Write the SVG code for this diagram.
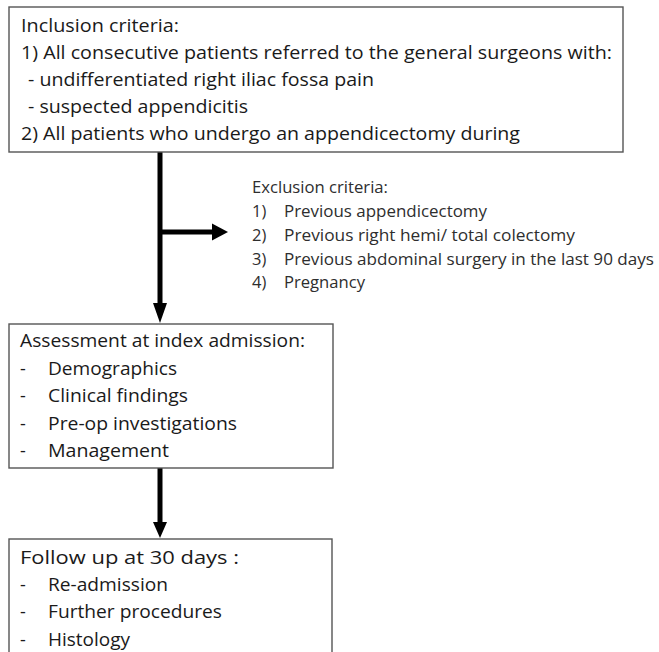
<svg xmlns="http://www.w3.org/2000/svg" width="659" height="652" viewBox="0 0 659 652">
<style>
.box{fill:#fff;stroke:#555;stroke-width:1.4}
.t{font-family:"Open Sans","Liberation Sans",sans-serif;font-size:18px;fill:#1a1a1a}
.e{font-family:"Open Sans","Liberation Sans",sans-serif;font-size:16.5px;fill:#2e2e2e}
.ln{stroke:#000;stroke-width:5;fill:none}
.ah{fill:#000}
</style>
<rect width="659" height="652" fill="#fff"/>
<g id="connectors">
<line class="ln" x1="160" y1="152" x2="160" y2="305"/>
<polygon class="ah" points="153,303 167,303 160,323"/>
<line class="ln" x1="160" y1="232" x2="214" y2="232"/>
<polygon class="ah" points="212,223.5 212,240.5 228,232"/>
<line class="ln" x1="160" y1="468" x2="160" y2="524"/>
<polygon class="ah" points="153,522 167,522 160,538"/>
</g>
<g id="inclusion">
<rect class="box" x="9" y="7" width="614" height="145"/>
<text class="t" x="21" y="32" textLength="158" lengthAdjust="spacingAndGlyphs">Inclusion criteria:</text>
<text class="t" x="21" y="59" textLength="591" lengthAdjust="spacingAndGlyphs">1) All consecutive patients referred to the general surgeons with:</text>
<text class="t" x="28" y="86" textLength="346" lengthAdjust="spacingAndGlyphs">- undifferentiated right iliac fossa pain</text>
<text class="t" x="28" y="113" textLength="220" lengthAdjust="spacingAndGlyphs">- suspected appendicitis</text>
<text class="t" x="21" y="140" textLength="499" lengthAdjust="spacingAndGlyphs">2) All patients who undergo an appendicectomy during</text>
</g>
<g id="exclusion">
<text class="e" x="252" y="193" textLength="136" lengthAdjust="spacingAndGlyphs">Exclusion criteria:</text>
<text class="e" x="252" y="217">1)</text>
<text class="e" x="284" y="217" textLength="203" lengthAdjust="spacingAndGlyphs">Previous appendicectomy</text>
<text class="e" x="252" y="241">2)</text>
<text class="e" x="284" y="241" textLength="291" lengthAdjust="spacingAndGlyphs">Previous right hemi/ total colectomy</text>
<text class="e" x="252" y="265">3)</text>
<text class="e" x="284" y="265" textLength="370" lengthAdjust="spacingAndGlyphs">Previous abdominal surgery in the last 90 days</text>
<text class="e" x="252" y="288">4)</text>
<text class="e" x="284" y="288" textLength="81" lengthAdjust="spacingAndGlyphs">Pregnancy</text>
</g>
<g id="assessment">
<rect class="box" x="9" y="324" width="324" height="144"/>
<text class="t" x="20" y="347" textLength="285" lengthAdjust="spacingAndGlyphs">Assessment at index admission:</text>
<text class="t" x="20" y="375">-</text>
<text class="t" x="48" y="375" textLength="129" lengthAdjust="spacingAndGlyphs">Demographics</text>
<text class="t" x="20" y="402">-</text>
<text class="t" x="48" y="402" textLength="140" lengthAdjust="spacingAndGlyphs">Clinical findings</text>
<text class="t" x="20" y="430">-</text>
<text class="t" x="48" y="430" textLength="189" lengthAdjust="spacingAndGlyphs">Pre-op investigations</text>
<text class="t" x="20" y="457">-</text>
<text class="t" x="48" y="457" textLength="121" lengthAdjust="spacingAndGlyphs">Management</text>
</g>
<g id="followup">
<rect class="box" x="9" y="539" width="323" height="130"/>
<text class="t" x="20" y="564" textLength="219" lengthAdjust="spacingAndGlyphs">Follow up at 30 days :</text>
<text class="t" x="20" y="591">-</text>
<text class="t" x="48" y="591" textLength="120" lengthAdjust="spacingAndGlyphs">Re-admission</text>
<text class="t" x="20" y="618">-</text>
<text class="t" x="48" y="618" textLength="174" lengthAdjust="spacingAndGlyphs">Further procedures</text>
<text class="t" x="20" y="646">-</text>
<text class="t" x="48" y="646" textLength="82" lengthAdjust="spacingAndGlyphs">Histology</text>
</g>
</svg>
